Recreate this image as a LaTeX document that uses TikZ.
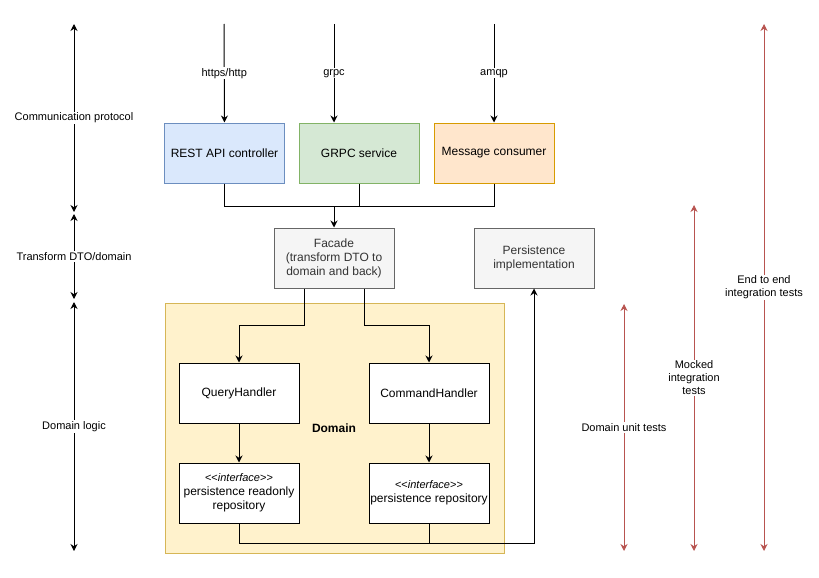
\documentclass[tikz,border=0pt]{standalone}
\usepackage{fontspec}
\setmainfont{Liberation Sans}[Ligatures=TeXOff]
\usetikzlibrary{arrows.meta}
\definecolor{restfill}{HTML}{DAE8FC}
\definecolor{restline}{HTML}{6C8EBF}
\definecolor{grpcfill}{HTML}{D5E8D4}
\definecolor{grpcline}{HTML}{82B366}
\definecolor{mqfill}{HTML}{FFE6CC}
\definecolor{mqline}{HTML}{D79B00}
\definecolor{greyfill}{HTML}{F5F5F5}
\definecolor{greyline}{HTML}{666666}
\definecolor{greytext}{HTML}{333333}
\definecolor{domfill}{HTML}{FFF2CC}
\definecolor{domline}{HTML}{D6B656}
\definecolor{testred}{HTML}{B85450}
\begin{document}
\begin{tikzpicture}[x=1pt, y=-1pt, line width=1pt,
  box/.style={draw, minimum width=120pt, minimum height=60pt, inner sep=1pt, align=center, font=\fontsize{12}{14}\selectfont},
  greybox/.style={box, fill=greyfill, draw=greyline, text=greytext},
  flow/.style={-{Stealth[length=7pt, width=7pt]}},
  span/.style={{Stealth[length=7pt, width=7pt]}-{Stealth[length=7pt, width=7pt]}},
  lbl/.style={fill=white, inner sep=1pt, align=center, font=\fontsize{11}{13}\selectfont}]
\useasboundingbox (0,0) rectangle (819,578);
% domain container
\node[draw=domline, fill=domfill, minimum width=339pt, minimum height=250pt] (domain) at (334.5,428) {};
\node[font=\fontsize{12}{14}\selectfont\bfseries] (domlbl) at (334,428) {Domain};
% entry points
\node[box, fill=restfill, draw=restline] (rest) at (224.5,153) {REST API controller};
\node[box, fill=grpcfill, draw=grpcline] (grpc) at (359,153) {GRPC service};
\node[box, fill=mqfill, draw=mqline] (mq) at (494,153) {Message consumer};
\node[greybox] (facade) at (334,258) {Facade\\(transform DTO to\\domain and back)};
\node[greybox] (persist) at (534,258) {Persistence\\implementation};
% handlers and repositories
\node[box, fill=white] (query) at (239,393) {QueryHandler};
\node[box, fill=white] (command) at (429,393) {CommandHandler};
\node[box, fill=white] (readrepo) at (239,493) {{\fontsize{11}{13}\selectfont<<\textit{interface}>>}\\persistence readonly\\repository};
\node[box, fill=white] (repo) at (429,493) {{\fontsize{11}{13}\selectfont<<\textit{interface}>>}\\persistence repository};
% protocols
\coordinate (in1) at (224,24);
\coordinate (in2) at (334,24);
\coordinate (in3) at (494,24);
\draw[flow] (in1) -- (rest.north) node[lbl, midway] {https/http};
\draw[flow] (in2) -- (in2 |- grpc.north) node[lbl, midway] {grpc};
\draw[flow] (in3) -- (mq.north) node[lbl, midway] {amqp};
\coordinate (join) at (334,206);
\draw (rest.south) |- (join);
\draw (grpc.south) |- (join);
\draw (mq.south) |- (join);
\draw[flow] (join) -- (facade.north);
\draw[flow] ([xshift=-30pt]facade.south) -- ++(0,37) -| (query.north);
\draw[flow] ([xshift=30pt]facade.south) -- ++(0,37) -| (command.north);
\draw[flow] (query) -- (readrepo);
\draw[flow] (command) -- (repo);
\draw (repo.south) -- ++(0,20);
\draw[flow] (readrepo.south) -- ++(0,20) -| (persist.south);
% layers
\coordinate (l0) at (74,24);
\coordinate (l1) at (74,212);
\coordinate (l2) at (74,214);
\coordinate (l3) at (74,299);
\coordinate (l4) at (74,302);
\coordinate (l5) at (74,551);
\draw[span] (l0) -- (l1) node[lbl, midway] {Communication protocol};
\draw[span] (l2) -- (l3) node[lbl, midway] {Transform DTO/domain};
\draw[span] (l4) -- (l5) node[lbl, midway] {Domain logic};
% test scopes
\coordinate (t1) at (624,304);
\coordinate (t2) at (694,205);
\coordinate (t3) at (764,24);
\coordinate (b1) at (624,551);
\coordinate (b2) at (694,551);
\coordinate (b3) at (764,551);
\draw[span, testred] (t1) -- (b1) node[lbl, midway, text=black] {Domain unit tests};
\draw[span, testred] (t2) -- (b2) node[lbl, midway, text=black] {Mocked\\integration\\tests};
\draw[span, testred] (t3) -- (b3) node[lbl, midway, text=black] {End to end\\integration tests};
\end{tikzpicture}
\end{document}
